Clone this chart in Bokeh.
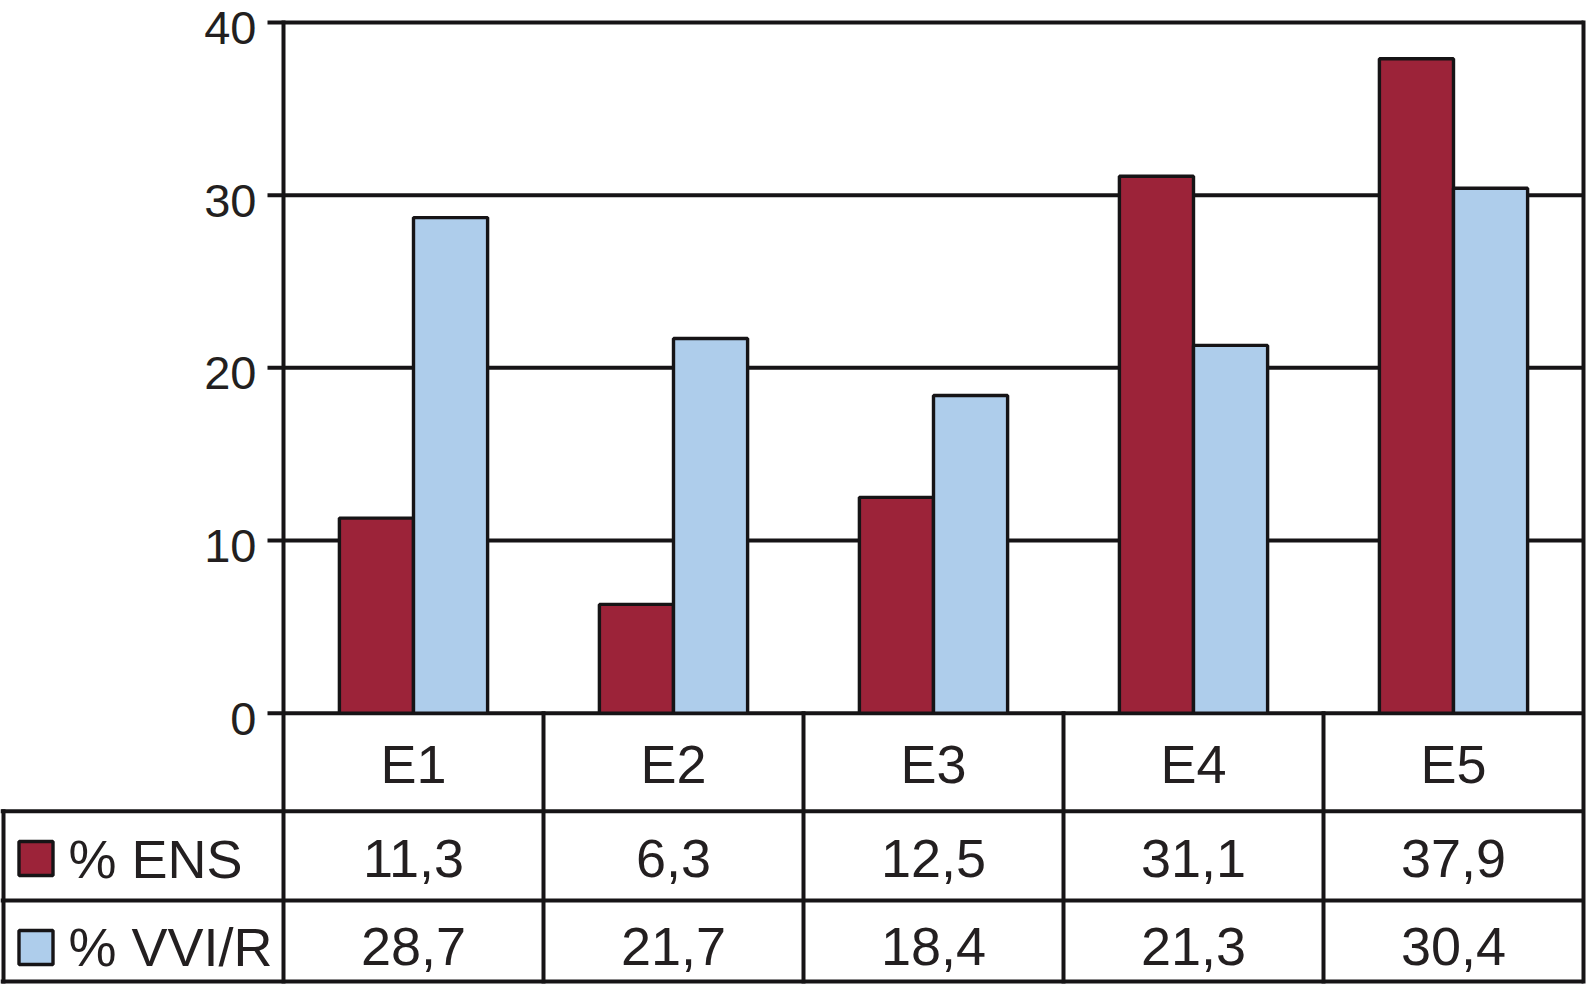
from bokeh.plotting import figure
from bokeh.models import Range1d
from bokeh.core.properties import value
from bokeh.embed import file_html
from bokeh.resources import INLINE

# ---------------- data ----------------
categories = ["E1", "E2", "E3", "E4", "E5"]
ens = [11.3, 6.3, 12.5, 31.1, 37.9]
vvi = [28.7, 21.7, 18.4, 21.3, 30.4]
series_names = ["% ENS", "% VVI/R"]
yticks = [0, 10, 20, 30, 40]

RED = "#9c2339"
BLUE = "#aecdeb"
INK = "#161416"
TEXT = "#231f20"
FONT = value("Liberation Sans")


def fmt(v):
    return f"{v:.1f}".replace(".", ",")


ens_labels = [fmt(v) for v in ens]
vvi_labels = [fmt(v) for v in vvi]

# ---------------- layout (pixels on page) ----------------
W, H = 1587, 985          # canvas size
OFF = 0                   # canvas origin on page
PLOT_L, PLOT_R = 283, 1583
Y40_PX, Y0_PX = 22.0, 712.7
XPX = (PLOT_R - PLOT_L) / len(categories)   # pixels per category
YPX = (Y0_PX - Y40_PX) / 40.0               # pixels per unit

x_start = -(PLOT_L - OFF) / XPX
x_end = x_start + W / XPX
y_end = (Y0_PX - OFF) / YPX
y_start = y_end - H / YPX


def px(xp):
    return (xp - PLOT_L) / XPX


def py(yp):
    return (Y0_PX - yp) / YPX


ROW1, ROW2, ROW3 = 810.7, 900.0, 981.0   # bottom edges of table rows
ncat = len(categories)
ymax = yticks[-1]

FS_TICK, FS = 47, 54
MID = 0.31   # em offset from baseline to the 'middle' anchor

p = figure(width=W, height=H, x_range=Range1d(x_start, x_end),
           y_range=Range1d(y_start, y_end), output_backend="svg",
           toolbar_location=None, min_border=0,
           x_axis_location=None, y_axis_location=None)
p.grid.visible = False
p.outline_line_color = None
p.background_fill_color = "white"
p.border_fill_color = "white"

LW = 4
# gridlines + tick marks
tick_len = 16 / XPX
p.segment(x0=[-tick_len] * len(yticks), y0=yticks, x1=[ncat] * len(yticks), y1=yticks,
          line_color=INK, line_width=LW)

# bars
bw = 0.285
xs = [i + 0.5 for i in range(ncat)]
p.vbar(x=[x - bw / 2 for x in xs], width=bw, top=ens, bottom=0,
       fill_color=RED, line_color=INK, line_width=3.4)
p.vbar(x=[x + bw / 2 for x in xs], width=bw, top=vvi, bottom=0,
       fill_color=BLUE, line_color=INK, line_width=3.4)

# vertical lines (axis, column separators, right border)
ybot = py(ROW3)
p.segment(x0=list(range(ncat + 1)), x1=list(range(ncat + 1)),
          y0=[ymax] + [0] * (ncat - 1) + [ymax], y1=[ybot] * (ncat + 1),
          line_color=INK, line_width=LW, line_cap="square")

# horizontal table lines
rows = [py(ROW1), py(ROW2), py(ROW3)]
xl = px(3)
p.segment(x0=[px(0)] * 3, x1=[ncat] * 3, y0=rows, y1=rows,
          line_color=INK, line_width=LW)
# left border of series rows
p.segment(x0=[xl], x1=[xl], y0=[py(ROW1)], y1=[ybot], line_color=INK, line_width=LW,
          line_cap="square")

# y tick labels
p.text(x=[px(256)] * len(yticks), y=[t - (20 - MID * FS_TICK) / YPX for t in yticks],
       text=[str(t) for t in yticks], text_align="right", text_baseline="middle",
       text_font=FONT, text_font_size=f"{FS_TICK}px", text_color=TEXT)

# category row
p.text(x=xs, y=[py(780 - MID * FS)] * ncat, text=categories, text_align="center",
       text_baseline="middle", text_font=FONT, text_font_size=f"{FS}px", text_color=TEXT)
# value rows
p.text(x=xs, y=[py(875 - MID * FS)] * ncat, text=ens_labels, text_align="center",
       text_baseline="middle", text_font=FONT, text_font_size=f"{FS}px", text_color=TEXT)
p.text(x=xs, y=[py(963 - MID * FS)] * ncat, text=vvi_labels, text_align="center",
       text_baseline="middle", text_font=FONT, text_font_size=f"{FS}px", text_color=TEXT)

# legend swatches + names
p.rect(x=[px(35.5)] * 2, y=[py(858), py(947)], width=34, height=34,
       width_units="screen", height_units="screen",
       fill_color=[RED, BLUE], line_color=INK, line_width=3.4)
p.text(x=[px(68)] * 2, y=[py(875 - MID * FS), py(963 - MID * FS)], text=series_names,
       text_align="left", text_baseline="middle", text_font=FONT,
       text_font_size=f"{FS}px", text_color=TEXT)

open("out.html", "w").write(file_html(p, INLINE))
